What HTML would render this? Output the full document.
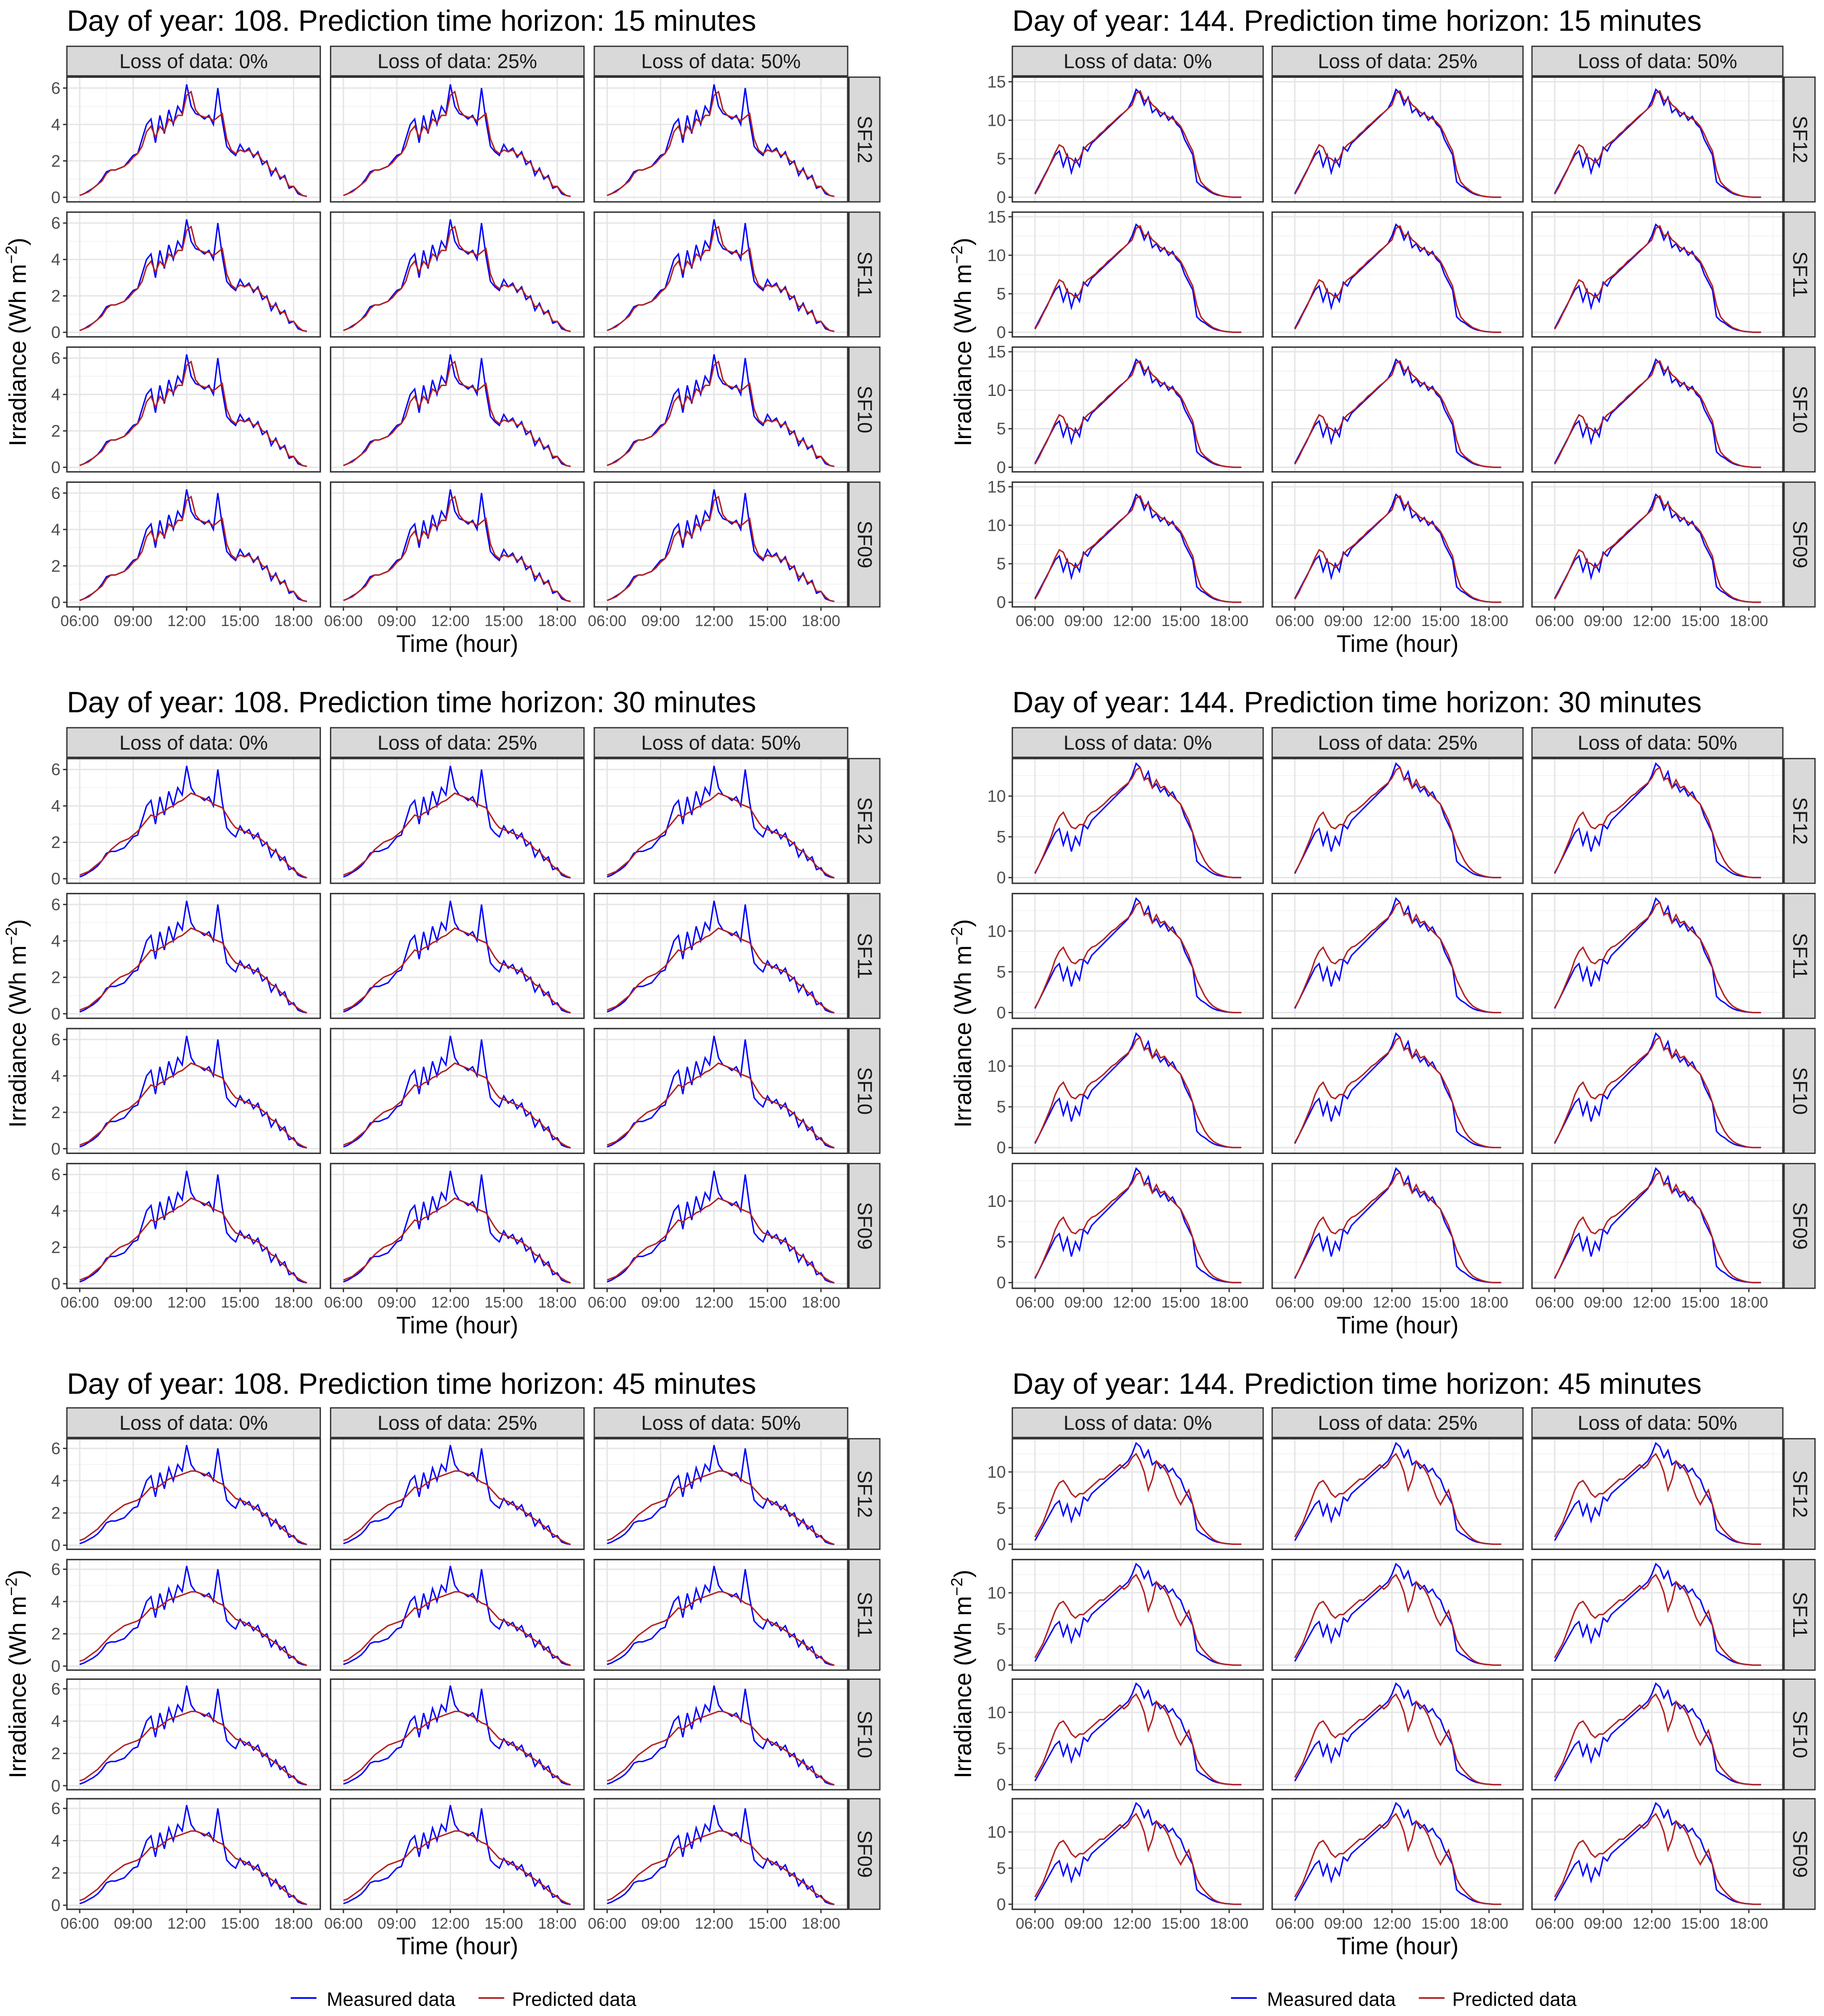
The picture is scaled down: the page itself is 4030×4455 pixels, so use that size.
<!DOCTYPE html>
<html><head><meta charset="utf-8">
<style>
html,body{margin:0;padding:0;background:#fff;}
svg{display:block;font-family:"Liberation Sans",Arial,sans-serif;}
</style></head>
<body>
<svg id="chart" xmlns="http://www.w3.org/2000/svg" width="4030" height="4455" viewBox="0 0 1418 1568" preserveAspectRatio="none"></svg>
<script>
// ---- data (hours from 06:00 every 15 minutes) ----
const timeStart = 6.0;
const timeStep = 0.25;
const measured108 = [0.1,0.2,0.35,0.5,0.7,1.0,1.4,1.5,1.5,1.6,1.7,2.0,2.3,2.4,3.2,4.0,4.3,3.0,4.5,3.5,4.8,4.0,5.0,4.6,6.2,5.0,4.6,4.5,4.3,4.5,4.0,6.0,4.2,2.8,2.5,2.3,2.9,2.5,2.7,2.2,2.5,1.8,2.0,1.2,1.6,1.0,1.2,0.5,0.6,0.2,0.1,0.05];
const pred108_15 = [0.1,0.2,0.3,0.5,0.7,0.9,1.3,1.5,1.5,1.6,1.7,1.9,2.2,2.4,2.8,3.6,3.9,3.3,3.9,3.6,4.3,4.1,4.5,4.5,5.6,5.8,4.8,4.5,4.4,4.4,4.2,4.4,4.6,3.2,2.6,2.4,2.6,2.5,2.6,2.3,2.4,2.0,1.9,1.4,1.5,1.1,1.1,0.6,0.6,0.3,0.1,0.05];
const pred108_30 = [0.2,0.3,0.4,0.6,0.8,1.0,1.3,1.6,1.8,2.0,2.1,2.2,2.4,2.6,2.9,3.2,3.5,3.4,3.6,3.7,3.9,4.0,4.2,4.3,4.5,4.7,4.6,4.5,4.4,4.3,4.1,4.0,3.9,3.5,3.1,2.8,2.7,2.6,2.5,2.4,2.3,2.1,1.9,1.6,1.5,1.2,1.0,0.7,0.5,0.3,0.15,0.05];
const pred108_45 = [0.3,0.4,0.6,0.8,1.0,1.3,1.6,1.9,2.1,2.3,2.5,2.6,2.7,2.8,3.0,3.3,3.6,3.5,3.7,3.9,4.1,4.2,4.3,4.4,4.5,4.6,4.6,4.5,4.4,4.3,4.1,3.9,3.8,3.5,3.2,2.9,2.8,2.7,2.5,2.4,2.2,2.0,1.8,1.6,1.4,1.2,0.9,0.7,0.5,0.3,0.15,0.05];
const measured144 = [0.5,1.5,2.5,3.5,4.5,5.5,6.0,4.0,5.5,3.2,5.0,4.0,6.5,6.0,7.0,7.5,8.0,8.5,9.0,9.5,10.0,10.5,11.0,11.5,12.5,14.0,13.5,12.0,13.0,11.0,11.5,10.5,11.0,10.0,10.5,9.5,9.0,7.5,6.5,5.5,2.0,1.5,1.2,0.8,0.5,0.3,0.2,0.1,0.05,0,0,0];
const pred144_15 = [0.4,1.3,2.4,3.4,4.6,5.8,6.8,6.5,5.2,5.0,4.5,5.0,6.2,6.8,7.2,7.6,8.2,8.6,9.2,9.6,10.1,10.6,11.0,11.5,12.0,13.5,13.8,12.5,12.8,12.0,11.6,11.0,10.8,10.4,10.2,9.8,9.2,8.2,7.0,6.0,3.5,2.0,1.4,1.0,0.6,0.4,0.2,0.1,0.05,0,0,0];
const pred144_30 = [0.6,1.5,2.6,3.8,5.0,6.5,7.5,8.0,7.0,6.2,6.0,6.5,6.5,7.5,8.0,8.2,8.6,9.0,9.5,10.0,10.3,10.8,11.2,11.6,12.2,13.2,13.5,12.0,12.2,11.0,12.0,11.0,11.2,10.5,10.0,9.5,9.0,8.0,7.0,5.5,4.0,3.0,2.0,1.3,0.8,0.5,0.3,0.15,0.05,0,0,0];
const pred144_45 = [1.0,2.0,3.0,4.5,6.0,7.5,8.5,8.8,8.0,7.0,6.5,7.0,7.0,7.5,8.0,8.5,9.0,9.0,9.5,10.0,10.5,11.0,10.5,11.0,12.0,12.5,11.5,10.0,7.5,9.0,11.5,11.0,10.5,9.5,8.0,6.5,5.5,6.5,7.5,5.5,3.5,2.5,1.8,1.2,0.7,0.4,0.2,0.1,0.05,0,0,0];
const lossLabels = ["Loss of data: 0%","Loss of data: 25%","Loss of data: 50%"];
const siteLabels = ["SF12","SF11","SF10","SF09"];
const xTickValues = [6,9,12,15,18];
const xTickLabels = ["06:00","09:00","12:00","15:00","18:00"];
const yTicks108 = [0,2,4,6];
const yTicks144a = [0,5,10,15];
const yTicks144b = [0,5,10];
const horizons = [15,30,45];

const NS = "http://www.w3.org/2000/svg";
const svg = document.getElementById('chart');
function mk(tag, attrs, parent){
  const e = document.createElementNS(NS, tag);
  for (const k in attrs) e.setAttribute(k, attrs[k]);
  (parent||svg).appendChild(e);
  return e;
}
function txt(s, attrs, parent){ const t = mk('text', attrs, parent); t.textContent = s; return t; }

function drawBlock(cfg){
  const g = mk('g', {});
  
  
  const t = txt(cfg.title, {x: cfg.cols[0], y: cfg.titleY, 'font-size': 22.8, fill: '#000'}, g);
  
  
  const W = cfg.w, H = cfg.h;
  const xs = h => (h - cfg.xDom[0]) / (cfg.xDom[1] - cfg.xDom[0]) * W;
  const ys = v => H - (v - cfg.yDom[0]) / (cfg.yDom[1] - cfg.yDom[0]) * H;
  cfg.cols.forEach((cx, ci) => {
    const s = mk('rect', {x: cx, y: cfg.rows[0]-24, width: W, height: 23, fill: '#d9d9d9', stroke: '#333', 'stroke-width': 1}, g);
    
    
    const st = txt(lossLabels[ci], {x: cx + W/2, y: cfg.rows[0]-7, 'font-size': 15.5, 'text-anchor': 'middle', fill: '#1a1a1a'}, g);
    
    
  });
  cfg.rows.forEach((ry, ri) => {
    const sx = cfg.cols[2] + W + 1;
    const s = mk('rect', {x: sx, y: ry, width: 24, height: H, fill: '#d9d9d9', stroke: '#333', 'stroke-width': 1}, g);
    
    
    const st = txt(siteLabels[ri], {x: 0, y: 0, 'font-size': 15.5, 'text-anchor': 'middle', fill: '#1a1a1a', transform: `translate(${sx+7},${ry+H/2}) rotate(90)`}, g);
    
    
    cfg.cols.forEach((cx, ci) => {
      const p = mk('g', {transform: `translate(${cx},${ry})`}, g);
      
      
      mk('rect', {x: 0, y: 0, width: W, height: H, fill: '#fff'}, p);
      for (let i = 0; i < xTickValues.length; i++) {
        const m = xTickValues[i] + 1.5;
        if (xs(m) < W) mk('line', {x1: xs(m), x2: xs(m), y1: 0, y2: H, stroke: '#f2f2f2', 'stroke-width': 0.6}, p);
        const mb = xTickValues[i] - 1.5;
        if (i === 0 && xs(mb) > 0) mk('line', {x1: xs(mb), x2: xs(mb), y1: 0, y2: H, stroke: '#f2f2f2', 'stroke-width': 0.6}, p);
      }
      for (let i = 0; i < cfg.yTicks.length; i++) {
        const mv = cfg.yTicks[i] + (cfg.yTicks[1]-cfg.yTicks[0])/2;
        if (ys(mv) > 0) mk('line', {x1: 0, x2: W, y1: ys(mv), y2: ys(mv), stroke: '#f2f2f2', 'stroke-width': 0.6}, p);
      }
      xTickValues.forEach(v => mk('line', {x1: xs(v), x2: xs(v), y1: 0, y2: H, stroke: '#e6e6e6', 'stroke-width': 1.1}, p));
      cfg.yTicks.forEach(v => mk('line', {x1: 0, x2: W, y1: ys(v), y2: ys(v), stroke: '#e6e6e6', 'stroke-width': 1.1}, p));
      const mkPath = (arr) => {
        let d = '';
        arr.forEach((v, i) => {
          const x = xs(timeStart + i*timeStep), y = ys(v);
          d += (i === 0 ? 'M' : 'L') + x.toFixed(2) + ',' + y.toFixed(2);
        });
        return d;
      };
      const mp = mk('path', {d: mkPath(cfg.measured), fill: 'none', stroke: '#0000ff', 'stroke-width': 1.1}, p);
      
      
      const pp = mk('path', {d: mkPath(cfg.pred), fill: 'none', stroke: '#b22222', 'stroke-width': 1.1}, p);
      
      
      mk('rect', {x: 0, y: 0, width: W, height: H, fill: 'none', stroke: '#333', 'stroke-width': 1.1}, p);
      if (ci === 0) {
        cfg.yTicks.forEach(v => {
          mk('line', {x1: -3, x2: 0, y1: ys(v), y2: ys(v), stroke: '#333', 'stroke-width': 1}, p);
          const yl = txt(String(v), {x: -5, y: ys(v)+4.5, 'font-size': 13, 'text-anchor': 'end', fill: '#4d4d4d'}, p);
          
          
        });
      }
      if (ri === cfg.rows.length - 1) {
        xTickValues.forEach((v, k) => {
          mk('line', {x1: xs(v), x2: xs(v), y1: H, y2: H+3, stroke: '#333', 'stroke-width': 1}, p);
          const xl = txt(xTickLabels[k], {x: xs(v), y: H+15, 'font-size': 12, 'text-anchor': 'middle', fill: '#4d4d4d'}, p);
          
          
        });
      }
    });
  });
  const lastBottom = cfg.rows[cfg.rows.length-1] + H;
  const xt = txt('Time (hour)', {x: (cfg.cols[0] + cfg.cols[2] + W)/2, y: lastBottom + 35, 'font-size': 18.5, 'text-anchor': 'middle', fill: '#000'}, g);
  
  
  const yc = (cfg.rows[0] + lastBottom)/2;
  const yt = mk('text', {x: 0, y: 0, 'font-size': 18.5, 'text-anchor': 'middle', fill: '#000', transform: `translate(${cfg.cols[0]-32},${yc}) rotate(-90)`}, g);
  
  
  yt.appendChild(document.createTextNode('Irradiance (Wh m'));
  const sup = document.createElementNS(NS, 'tspan');
  sup.setAttribute('dy', -7); sup.setAttribute('font-size', 12.5); sup.textContent = '\u22122';
  yt.appendChild(sup);
  const cl = document.createElementNS(NS, 'tspan');
  cl.setAttribute('dy', 7); cl.textContent = ')';
  yt.appendChild(cl);
}

const rowSets = [
  {off: 0, rows: [60,165,270,375], h: 97},
  {off: 530, rows: [590,695,800,905], h: 97},
  {off: 1060, rows: [1119,1213,1306,1399], h: 86}
];
const preds108 = [pred108_15, pred108_30, pred108_45];
const preds144 = [pred144_15, pred144_30, pred144_45];
rowSets.forEach((rs, k) => {
  drawBlock({name: 'block-day108-h' + horizons[k], title: `Day of year: 108. Prediction time horizon: ${horizons[k]} minutes`,
    titleY: rs.off + 24, cols: [52,257,462], w: 197, h: rs.h, rows: rs.rows,
    xDom: [5.28, 19.5], yDom: [-0.25, 6.6], yTicks: yTicks108, measured: measured108, pred: preds108[k]});
  drawBlock({name: 'block-day144-h' + horizons[k], title: `Day of year: 144. Prediction time horizon: ${horizons[k]} minutes`,
    titleY: rs.off + 24, cols: [787,989,1191], w: 195, h: rs.h, rows: rs.rows,
    xDom: [4.6, 20.1], yDom: k === 0 ? [-0.6, 15.6] : [-0.7, 14.6], yTicks: k === 0 ? yTicks144a : yTicks144b,
    measured: measured144, pred: preds144[k]});
});

[[226, 'legend-left'], [957, 'legend-right']].forEach(([lx, nm]) => {
  const lg = mk('g', {});
  
  
  mk('line', {x1: lx, x2: lx+20, y1: 1554, y2: 1554, stroke: '#0000ff', 'stroke-width': 1.3}, lg);
  const a = txt('Measured data', {x: lx+28, y: 1560, 'font-size': 15, fill: '#000'}, lg);
  
  
  mk('line', {x1: lx+146, x2: lx+166, y1: 1554, y2: 1554, stroke: '#b22222', 'stroke-width': 1.3}, lg);
  const b = txt('Predicted data', {x: lx+172, y: 1560, 'font-size': 15, fill: '#000'}, lg);
  
  
});
</script>
</body></html>
